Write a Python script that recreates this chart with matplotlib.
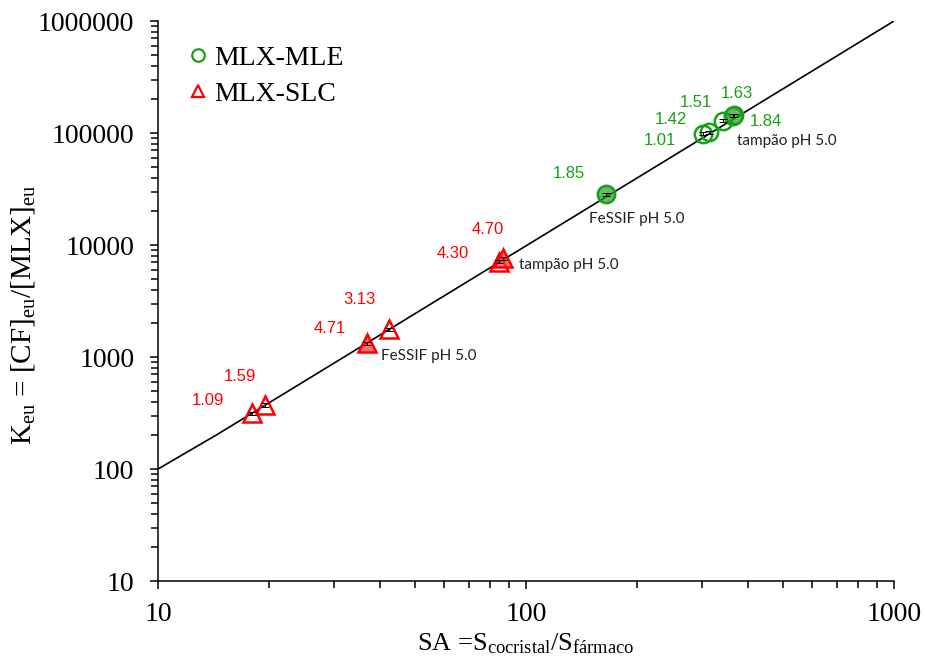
import matplotlib
matplotlib.use("Agg")
import matplotlib.pyplot as plt
from matplotlib.lines import Line2D

plt.rcParams['font.family'] = 'Liberation Serif'
plt.rcParams['mathtext.fontset'] = 'custom'
plt.rcParams['mathtext.rm'] = 'Liberation Serif'
plt.rcParams['mathtext.it'] = 'Liberation Serif:italic'

# reference line K = SA^2
line_sa = [10, 14.4, 1000]
line_k = [100, 201, 1000000]

# MLX-MLE (green circles)
mle_sa = [303, 314, 342, 365, 367, 165]
mle_k = [99000, 101400, 129300, 143000, 144800, 28400]
mle_err = [3000, 3000, 4000, 4000, 4500, 900]
mle_lab = ['1.01', '1.42', '1.51', '1.63', '1.84', '1.85']
mle_fill = [False, False, False, False, True, True]

# MLX-SLC (red triangles)
slc_sa = [18.0, 19.5, 36.9, 42.5, 84.2, 86.4]
slc_k = [314, 373, 1325, 1768, 7095, 7610]
slc_err = [12, 14, 45, 60, 220, 240]
slc_lab = ['1.09', '1.59', '4.71', '3.13', '4.30', '4.70']
slc_fill = [False, False, True, False, False, True]

# label offsets (points) from each marker
mle_off = [(-31, -5), (-27, 9), (-19, 13), (3, 16), (23, -5), (-27, 15)]
slc_off = [(-31.5, 9), (-17.5, 20.5), (-26.5, 11), (-21.5, 21.5), (-33, 6), (-11, 21)]

green = '#18a018'
red = '#ff0000'

fig = plt.figure(figsize=(9.25, 6.61), dpi=100)
ax = fig.add_axes([0.1708, 0.121, 0.7957, 0.8472])

ax.plot(line_sa, line_k, color='black', lw=1.2, zorder=1)

for i in range(len(mle_sa)):
    fc = (0.15, 0.62, 0.15, 0.7) if mle_fill[i] else 'none'
    ax.plot(mle_sa[i], mle_k[i], marker='o', ms=12.5, mfc=fc, mec=green,
            mew=1.8, ls='none', zorder=3)
    ax.errorbar(mle_sa[i], mle_k[i], yerr=mle_err[i], fmt='none',
                ecolor='black', elinewidth=0.7, capsize=3, capthick=0.7, zorder=4)
    ax.annotate(mle_lab[i], (mle_sa[i], mle_k[i]), xytext=mle_off[i],
                textcoords='offset points', ha='center', va='center',
                color=green, fontsize=12, family='Liberation Sans')

for i in range(len(slc_sa)):
    fc = (1.0, 0.2, 0.2, 0.7) if slc_fill[i] else 'none'
    ax.plot(slc_sa[i], slc_k[i], marker='^', ms=12.5, mfc=fc, mec=red,
            mew=1.8, ls='none', zorder=3)
    ax.errorbar(slc_sa[i], slc_k[i], yerr=slc_err[i], fmt='none',
                ecolor='black', elinewidth=0.7, capsize=3, capthick=0.7, zorder=4)
    ax.annotate(slc_lab[i], (slc_sa[i], slc_k[i]), xytext=slc_off[i],
                textcoords='offset points', ha='center', va='center',
                color=red, fontsize=12, family='Liberation Sans')

# medium annotations
note_kw = dict(textcoords='offset points', ha='left', va='center',
               fontsize=11, family='Lato', color='#222222')
ax.annotate('tampão pH 5.0', (mle_sa[4], mle_k[4]), xytext=(2, -19), **note_kw)
ax.annotate('FeSSIF pH 5.0', (mle_sa[5], mle_k[5]), xytext=(-12, -18), **note_kw)
ax.annotate('tampão pH 5.0', (slc_sa[5], slc_k[5]), xytext=(11.5, -5), **note_kw)
ax.annotate('FeSSIF pH 5.0', (slc_sa[2], slc_k[2]), xytext=(10.3, -9), **note_kw)

ax.set_xscale('log')
ax.set_yscale('log')
ax.set_xlim(10, 1000)
ax.set_ylim(10, 1000000)
ax.set_xticks([10, 100, 1000])
ax.set_xticklabels(['10', '100', '1000'])
ax.set_yticks([10, 100, 1000, 10000, 100000, 1000000])
ax.set_yticklabels(['10', '100', '1000', '10000', '100000', '1000000'])

for s in ['top', 'right']:
    ax.spines[s].set_visible(False)
for s in ['left', 'bottom']:
    ax.spines[s].set_linewidth(1.1)

ax.tick_params(axis='both', which='major', length=6, width=1.1, labelsize=20)
ax.tick_params(axis='both', which='minor', length=5, width=1.1)
ax.tick_params(axis='x', which='major', pad=9)
ax.tick_params(axis='y', which='major', pad=11)
ax.tick_params(axis='both', which='minor', labelleft=False, labelbottom=False)

ax.set_xlabel('SA =S$_{\\mathrm{cocristal}}$/S$_{\\mathrm{fármaco}}$', fontsize=19, labelpad=3)
ax.set_ylabel('K$_{\\mathrm{eu}}$ = [CF]$_{\\mathrm{eu}}$/[MLX]$_{\\mathrm{eu}}$', fontsize=21)
ax.yaxis.set_label_coords(-0.165, 0.475)

handles = [
    Line2D([], [], marker='o', ls='none', ms=9, mfc='none', mec=green, mew=1.6),
    Line2D([], [], marker='^', ls='none', ms=9, mfc='none', mec=red, mew=1.6),
]
ax.legend(handles, ['MLX-MLE', 'MLX-SLC'], loc='upper left',
          bbox_to_anchor=(0.0387, 0.957), frameon=False, fontsize=20,
          handlelength=0.8, handletextpad=0.2, borderpad=0, borderaxespad=0,
          labelspacing=0.4)

fig.savefig('out.png', dpi=100)
